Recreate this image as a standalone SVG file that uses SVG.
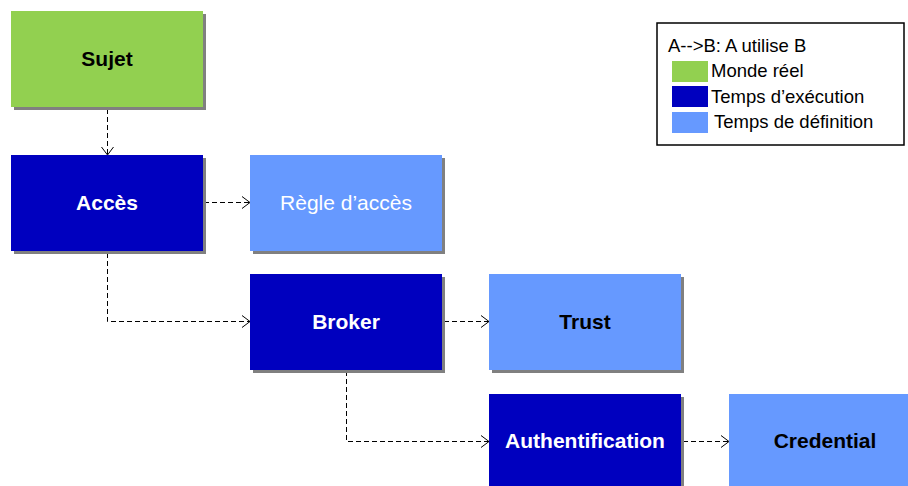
<svg xmlns="http://www.w3.org/2000/svg" width="908" height="486" viewBox="0 0 908 486">
  <defs>
    <marker id="open-arrow" markerWidth="12" markerHeight="14" refX="9" refY="7" orient="auto" markerUnits="userSpaceOnUse">
      <path d="M1,1 L9,7 L1,13" fill="none" stroke="#000" stroke-width="1"/>
    </marker>
  </defs>
  <style>
    .shadow { fill: #808080; }
    .real { fill: #92D050; }
    .run { fill: #0000BF; }
    .def { fill: #6699FF; }
    .label { font-family: "Liberation Sans", Arial, sans-serif; font-size: 21px; text-anchor: middle; }
    .bold { font-weight: bold; }
    .dark { fill: #000; }
    .light { fill: #fff; }
    .link { fill: none; stroke: #000; stroke-width: 1; stroke-dasharray: 5 3; marker-end: url(#open-arrow); }
    .legend-text { font-family: "Liberation Sans", Arial, sans-serif; font-size: 18.5px; fill: #000; }
  </style>

  <rect width="908" height="486" fill="#fff"/>

  <!-- connectors (half-pixel offsets keep the 1px dashes crisp) -->
  <g id="connectors">
    <path class="link" d="M107.5,109 V155"/>
    <path class="link" d="M204,202.5 H250"/>
    <path class="link" d="M107.5,253 V321.5 H250"/>
    <path class="link" d="M444,321.5 H489"/>
    <path class="link" d="M346.5,371 V441.5 H489"/>
    <path class="link" d="M683,441.5 H729"/>
  </g>

  <!-- nodes -->
  <g id="sujet">
    <rect class="shadow" x="14" y="14" width="192" height="96"/>
    <rect class="real" x="11" y="11" width="192" height="96"/>
    <text class="label bold dark" x="107" y="66">Sujet</text>
  </g>

  <g id="acces">
    <rect class="shadow" x="14" y="158" width="192" height="96"/>
    <rect class="run" x="11" y="155" width="192" height="96"/>
    <text class="label bold light" x="107" y="210">Accès</text>
  </g>

  <g id="regle-acces">
    <rect class="shadow" x="253" y="158" width="192" height="96"/>
    <rect class="def" x="250" y="155" width="192" height="96"/>
    <text class="label light" x="346" y="210">Règle d’accès</text>
  </g>

  <g id="broker">
    <rect class="shadow" x="253" y="277" width="192" height="96"/>
    <rect class="run" x="250" y="274" width="192" height="96"/>
    <text class="label bold light" x="346" y="329">Broker</text>
  </g>

  <g id="trust">
    <rect class="shadow" x="492" y="277" width="192" height="96"/>
    <rect class="def" x="489" y="274" width="192" height="96"/>
    <text class="label bold dark" x="585" y="329">Trust</text>
  </g>

  <g id="authentification">
    <rect class="shadow" x="492" y="397" width="192" height="96"/>
    <rect class="run" x="489" y="394" width="192" height="96"/>
    <text class="label bold light" x="585" y="448">Authentification</text>
  </g>

  <g id="credential">
    <rect class="shadow" x="732" y="397" width="192" height="96"/>
    <rect class="def" x="729" y="394" width="192" height="96"/>
    <text class="label bold dark" x="825" y="448">Credential</text>
  </g>

  <!-- legend -->
  <g id="legend">
    <rect x="657" y="23" width="247" height="122" fill="#fff" stroke="#000" stroke-width="1.5"/>
    <text class="legend-text" x="668" y="52">A--&gt;B: A utilise B</text>
    <rect class="real" x="672" y="61" width="36" height="21"/>
    <text class="legend-text" x="711" y="77">Monde réel</text>
    <rect class="run" x="672" y="86" width="36" height="21"/>
    <text class="legend-text" x="711" y="103">Temps d’exécution</text>
    <rect class="def" x="672" y="112" width="36" height="21"/>
    <text class="legend-text" x="714" y="128">Temps de définition</text>
  </g>
</svg>
